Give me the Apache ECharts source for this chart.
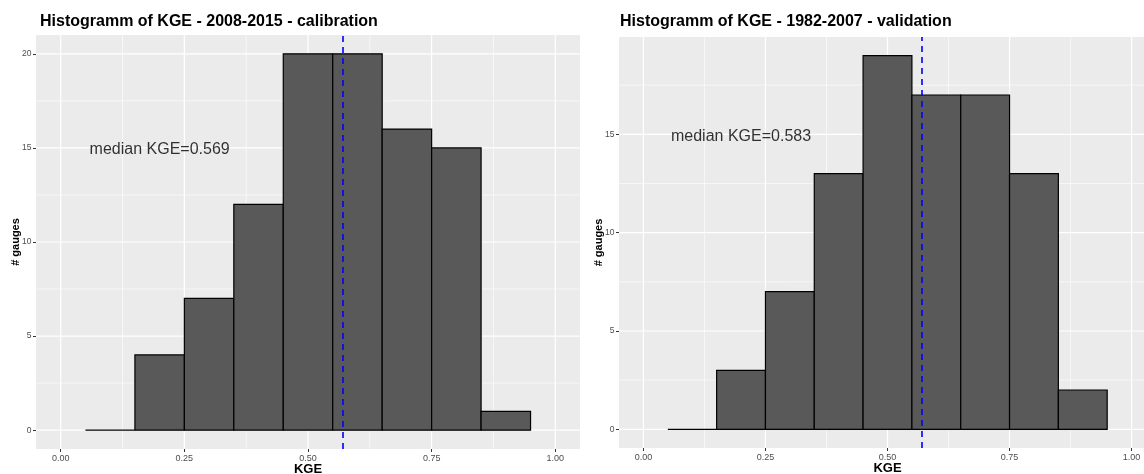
<!DOCTYPE html>
<html>
<head>
<meta charset="utf-8">
<script src="https://cdn.jsdelivr.net/npm/echarts@6/dist/echarts.min.js"></script>
<style>html,body{margin:0;padding:0;background:#fff;}#chart{width:1144px;height:474px;}</style>
</head>
<body>
<div id="chart"></div>
<script>
// ---- data ----
const binEdges = [0.05, 0.15, 0.25, 0.35, 0.45, 0.55, 0.65, 0.75, 0.85, 0.95];
const calibCounts = [0, 4, 7, 12, 20, 20, 16, 15, 1];
const validCounts = [0, 3, 7, 13, 19, 17, 17, 13, 2];
const titles = ['Histogramm of KGE - 2008-2015 - calibration', 'Histogramm of KGE - 1982-2007 - validation'];
const medianLabels = ['median KGE=0.569', 'median KGE=0.583'];
const medianLines = [0.569, 0.569];
const labelPos = [[0.2, 15], [0.2, 15]];
const xTicks = [0, 0.25, 0.5, 0.75, 1];
const xMinor = [0.125, 0.375, 0.625, 0.875];
const yTicksCal = [0, 5, 10, 15, 20];
const yMinorCal = [2.5, 7.5, 12.5, 17.5];
const yTicksVal = [0, 5, 10, 15];
const yMinorVal = [2.5, 7.5, 12.5, 17.5];
const yRanges = [[-1, 21], [-0.95, 19.95]];

const FONT = 'Liberation Sans, Arial, sans-serif';
const chart = echarts.init(document.getElementById('chart'), null, {renderer: 'canvas'});

function binData(counts) {
  return counts.map((c, i) => [binEdges[i], binEdges[i + 1], c]);
}

// grid line items: [orientation(0=vertical,1=horizontal), value, major(1)/minor(0)]
function gridLineSeries(idx, yMajor, yMinor) {
  const d = [];
  xMinor.forEach(v => d.push([0, v, 0]));
  yMinor.forEach(v => d.push([1, v, 0]));
  xTicks.forEach(v => d.push([0, v, 1]));
  yMajor.forEach(v => d.push([1, v, 1]));
  return {
    type: 'custom', xAxisIndex: idx, yAxisIndex: idx, z: 1, silent: true,
    data: d, encode: {x: [], y: []},
    renderItem: function (params, api) {
      const cs = params.coordSys;
      const orient = api.value(0), v = api.value(1), major = api.value(2);
      let shape;
      if (orient === 0) {
        const p = api.coord([v, 0]);
        shape = {x1: p[0], y1: cs.y, x2: p[0], y2: cs.y + cs.height};
      } else {
        const p = api.coord([0, v]);
        shape = {x1: cs.x, y1: p[1], x2: cs.x + cs.width, y2: p[1]};
      }
      return {type: 'line', shape: shape, style: {stroke: '#ffffff', lineWidth: major ? 1.2 : 0.6}};
    }
  };
}

function barSeries(idx, counts) {
  return {
    type: 'custom', xAxisIndex: idx, yAxisIndex: idx, z: 2,
    data: binData(counts), encode: {x: [0, 1], y: 2},
    renderItem: function (params, api) {
      const p0 = api.coord([api.value(0), api.value(2)]);
      const p1 = api.coord([api.value(1), 0]);
      return {type: 'rect', shape: {x: p0[0], y: p0[1], width: p1[0] - p0[0], height: p1[1] - p0[1]},
        style: {fill: '#595959', stroke: '#000000', lineWidth: 1.2}};
    }
  };
}

function medianSeries(idx) {
  return {
    type: 'scatter', xAxisIndex: idx, yAxisIndex: idx, z: 3, symbolSize: 0,
    data: [labelPos[idx]],
    label: {show: true, position: 'inside', formatter: medianLabels[idx], fontSize: 16, color: '#000', fontFamily: FONT, offset: [0, 2]},
    markLine: {silent: true, symbol: ['none', 'none'], label: {show: false},
      lineStyle: {color: '#0000ff', type: [6, 5], width: 1.6},
      data: [{xAxis: medianLines[idx]}], animation: false}
  };
}

function xAxis(idx) {
  return {
    type: 'value', gridIndex: idx, min: -0.05, max: 1.05, position: 'bottom',
    axisLine: {show: false, onZero: false}, splitLine: {show: false},
    axisTick: {show: true, customValues: xTicks, length: 3, lineStyle: {color: '#333333', width: 1}},
    axisLabel: {customValues: xTicks, formatter: v => v.toFixed(2), fontSize: 9, color: '#4d4d4d', margin: 5, fontFamily: FONT},
    name: 'KGE', nameLocation: 'middle', nameGap: 13.5, nameMoveOverlap: false,
    nameTextStyle: {fontWeight: 'bold', fontSize: 13, color: '#000', fontFamily: FONT, verticalAlign: 'top'}
  };
}

function yAxis(idx, ticks) {
  return {
    type: 'value', gridIndex: idx, min: yRanges[idx][0], max: yRanges[idx][1], position: 'left',
    axisLine: {show: false, onZero: false}, splitLine: {show: false},
    axisTick: {show: true, customValues: ticks, length: 3, lineStyle: {color: '#333333', width: 1}},
    axisLabel: {customValues: ticks, fontSize: 8.5, color: '#4d4d4d', margin: 4.5, fontFamily: FONT},
    name: '# gauges', nameLocation: 'middle', nameGap: 15, nameRotate: 90, nameMoveOverlap: false,
    nameTextStyle: {fontWeight: 'bold', fontSize: 11, color: '#000', fontFamily: FONT}
  };
}

chart.setOption({
  animation: false,
  backgroundColor: '#ffffff',
  title: [
    {text: titles[0], left: 40, top: 14, textStyle: {fontSize: 16, fontWeight: 'bold', color: '#000', fontFamily: FONT}, padding: 0},
    {text: titles[1], left: 620, top: 14, textStyle: {fontSize: 16, fontWeight: 'bold', color: '#000', fontFamily: FONT}, padding: 0}
  ],
  grid: [
    {left: 36, top: 35, width: 544, height: 414, show: true, backgroundColor: '#EBEBEB', borderWidth: 0, containLabel: false, outerBoundsMode: 'none'},
    {left: 619, top: 37, width: 537, height: 411, show: true, backgroundColor: '#EBEBEB', borderWidth: 0, containLabel: false, outerBoundsMode: 'none'}
  ],
  xAxis: [xAxis(0), xAxis(1)],
  yAxis: [yAxis(0, yTicksCal), yAxis(1, yTicksVal)],
  series: [
    gridLineSeries(0, yTicksCal, yMinorCal),
    gridLineSeries(1, yTicksVal, yMinorVal),
    barSeries(0, calibCounts),
    barSeries(1, validCounts),
    medianSeries(0),
    medianSeries(1)
  ]
});
</script>
</body>
</html>
